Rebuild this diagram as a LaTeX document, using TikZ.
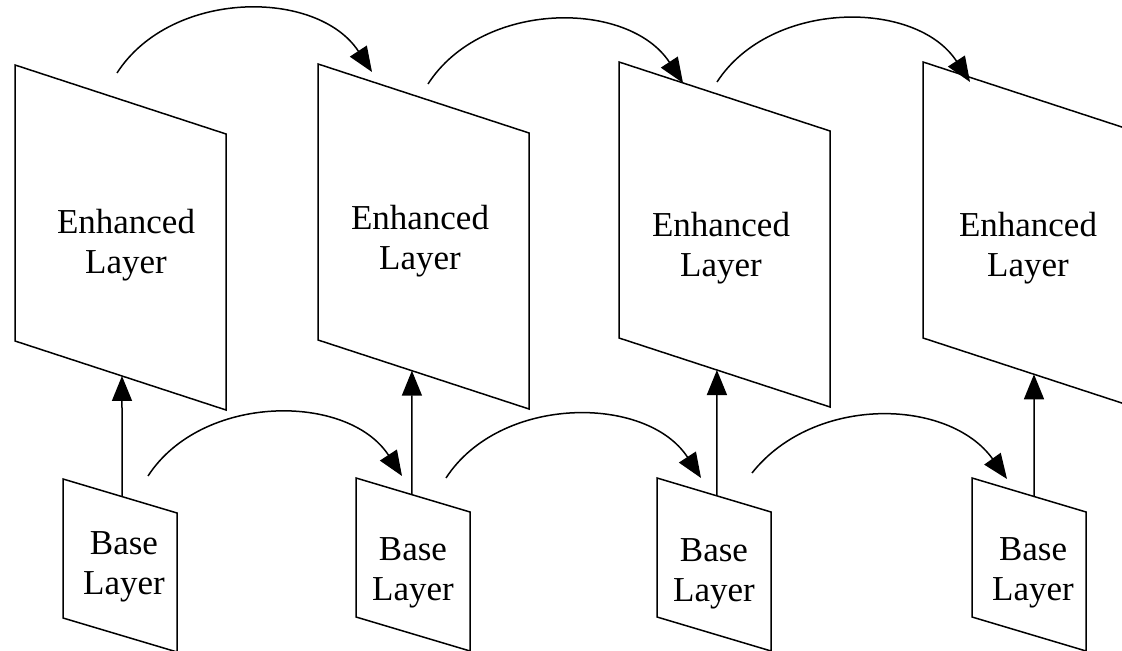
\documentclass[tikz,border=0pt]{standalone}
\usepackage{fontspec}
\setmainfont{Liberation Serif}
\usetikzlibrary{arrows.meta,calc}
\tikzstyle{plane} = [draw=black, line width=0.75pt]
\tikzstyle{layertext} = [align=center, inner sep=0pt, font=\fontsize{17.5}{20}\selectfont]
\tikzstyle{pred} = [draw=black, line width=0.75pt, -{Triangle[length=12.5pt, width=10pt]}]
% #1 name, #2 top left corner, #3 width, #4 drop of the top edge, #5 height
\newcommand{\layerplane}[5]{%
	\draw[plane] #2 coordinate (#1-tl) -- ++(#3,-#4) coordinate (#1-tr)
		-- ++(0,-#5) coordinate (#1-br) -- ++(-#3,#4) coordinate (#1-bl) -- cycle;}

\begin{document}
\begin{tikzpicture}[x=0.5pt,y=0.5pt]
	\useasboundingbox (0,0) rectangle (1122,651);
	% enhanced layers
	\layerplane{e1}{(15,586)}{211}{69}{276}
	\layerplane{e2}{(318,587)}{211}{69}{276}
	\layerplane{e3}{(619,589)}{211}{69}{276}
	\layerplane{e4}{(923,589)}{211}{69}{276}
	\node[layertext] (e1txt) at (126,406) {Enhanced\\Layer};
	\node[layertext] (e2txt) at (420,410) {Enhanced\\Layer};
	\node[layertext] (e3txt) at (721,403) {Enhanced\\Layer};
	\node[layertext] (e4txt) at (1028,403) {Enhanced\\Layer};
	% base layers
	\layerplane{b1}{(63,172)}{114}{34}{139}
	\layerplane{b2}{(356,173)}{114}{34}{139}
	\layerplane{b3}{(657,173)}{114}{34}{139}
	\layerplane{b4}{(972,173)}{114}{34}{139}
	\node[layertext] (b1txt) at (124,84) {Base\\Layer};
	\node[layertext] (b2txt) at (413,78) {Base\\Layer};
	\node[layertext] (b3txt) at (714,77) {Base\\Layer};
	\node[layertext] (b4txt) at (1033,78) {Base\\Layer};
	% base -> enhanced
	\foreach \n/\a/\b in {1/0.518/0.507, 2/0.491/0.445, 3/0.526/0.464, 4/0.544/0.526}
		\draw[pred] ($(b\n-tl)!\a!(b\n-tr)$) -- ($(e\n-bl)!\b!(e\n-br)$);
	% enhanced -> enhanced
	\coordinate (e1-out) at (117,578);
	\coordinate (e2-in) at (372,579);
	\coordinate (e2-out) at (428,567);
	\coordinate (e3-in) at (683,568);
	\coordinate (e3-out) at (717,569);
	\coordinate (e4-in) at (970,569);
	\draw[pred] (e1-out) to[bend left=57] (e2-in);
	\draw[pred] (e2-out) to[bend left=57] (e3-in);
	\draw[pred] (e3-out) to[bend left=57] (e4-in);
	% base -> base
	\coordinate (b1-out) at (148,175);
	\coordinate (b2-in) at (402,175);
	\coordinate (b2-out) at (446,173);
	\coordinate (b3-in) at (701,173);
	\coordinate (b3-out) at (752,178);
	\coordinate (b4-in) at (1007,172);
	\draw[pred] (b1-out) to[bend left=57] (b2-in);
	\draw[pred] (b2-out) to[bend left=57] (b3-in);
	\draw[pred] (b3-out) to[bend left=53] (b4-in);
\end{tikzpicture}
\end{document}
